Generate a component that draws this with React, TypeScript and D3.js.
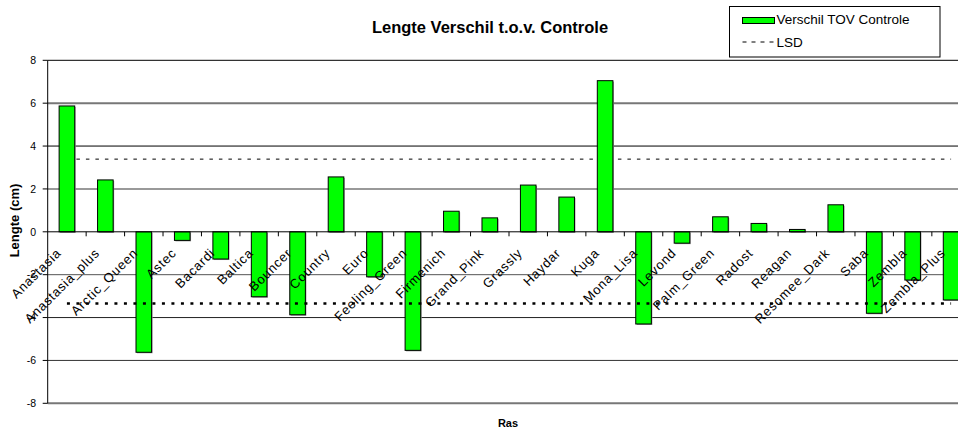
import React from "react";
import * as d3 from "d3";

const categories = [
  "Anastasia", "Anastasia_plus", "Arctic_Queen", "Astec", "Bacardi", "Baltica",
  "Bouncer", "Country", "Euro", "Feeling_Green", "Firmenich", "Grand_Pink",
  "Grassly", "Haydar", "Kuga", "Mona_Lisa", "Levond", "Palm_Green", "Radost",
  "Reagan", "Resomee_Dark", "Saba", "Zembla", "Zembla_Plus",
];
const values = [
  5.87, 2.42, -5.62, -0.4, -1.27, -3.03, -3.87, 2.56, -2.1, -5.53, 0.96, 0.65,
  2.18, 1.62, 7.05, -4.3, -0.53, 0.7, 0.39, 0.11, 1.26, -3.8, -2.25, -3.18,
];
const lsdValues = [3.39, -3.34];
const yTicks = [-8, -6, -4, -2, 0, 2, 4, 6, 8];
const title = "Lengte Verschil t.o.v. Controle";
const yTitle = "Lengte (cm)";
const xTitle = "Ras";
const legendLabels = ["Verschil TOV Controle", "LSD"];

const W = 958;
const H = 430;
const FONT = "'Liberation Sans', Arial, sans-serif";

export default function App() {
  const x0 = 47.7;
  const x1 = 970.3;
  const x = d3.scaleBand<string>().domain(categories).range([x0, x1]).padding(0);
  const y = d3.scaleLinear().domain([-8, 8]).range([403.3, 60.3]);
  const step = x.step();
  const barW = 15.6;
  const cx = (c: string) => (x(c) as number) + step / 2;
  const firstC = cx(categories[0]);
  const lastC = cx(categories[categories.length - 1]);

  const gridStyle: Record<number, { stroke: string; w: number }> = {
    8: { stroke: "#000", w: 1 },
    6: { stroke: "#777", w: 2 },
    4: { stroke: "#000", w: 1 },
    2: { stroke: "#777", w: 1.5 },
    [-2]: { stroke: "#555", w: 1 },
    [-4]: { stroke: "#222", w: 1 },
    [-6]: { stroke: "#333", w: 1 },
    [-8]: { stroke: "#777", w: 2 },
  };

  return (
    <svg
      width={W}
      height={H}
      style={{ position: "absolute", left: 0, top: 0, background: "#fff" }}
      fontFamily={FONT}
    >
      <rect x={0} y={0} width={W} height={H} fill="#fff" />
      {/* gridlines */}
      {yTicks
        .filter((t) => t !== 0)
        .map((t) => (
          <line
            key={"g" + t}
            x1={x0}
            x2={x1}
            y1={y(t)}
            y2={y(t)}
            stroke={gridStyle[t].stroke}
            strokeWidth={gridStyle[t].w}
          />
        ))}
      {/* LSD upper line */}
      <line
        x1={firstC}
        x2={lastC}
        y1={y(lsdValues[0])}
        y2={y(lsdValues[0])}
        stroke="#000"
        strokeWidth={1}
        strokeDasharray="3.5,6"
      />
      {/* bars */}
      {categories.map((c, i) => {
        const v = values[i];
        const top = y(Math.max(0, v));
        const h = Math.abs(y(v) - y(0));
        return (
          <g key={c}>
            <rect x={cx(c) - barW / 2 + 1} y={top + 1} width={barW} height={h} fill="#999" />
            <rect
              x={cx(c) - barW / 2}
              y={top}
              width={barW}
              height={h}
              fill="#00ff00"
              stroke="#000"
              strokeWidth={1}
            />
          </g>
        );
      })}
      {/* LSD lower line */}
      <line
        x1={firstC}
        x2={lastC}
        y1={y(lsdValues[1])}
        y2={y(lsdValues[1])}
        stroke="#000"
        strokeWidth={2.5}
        strokeDasharray="3,6.5"
      />
      {/* zero axis with ticks */}
      <line x1={x0} x2={x1} y1={y(0)} y2={y(0)} stroke="#000" strokeWidth={1} />
      {categories.map((c) => (
        <line
          key={"t" + c}
          x1={(x(c) as number) + step}
          x2={(x(c) as number) + step}
          y1={y(0)}
          y2={y(0) + 4.5}
          stroke="#000"
          strokeWidth={1}
        />
      ))}
      {/* y axis */}
      <line x1={x0} x2={x0} y1={y(8)} y2={y(-8)} stroke="#000" strokeWidth={1} />
      {yTicks.map((t) => (
        <g key={"y" + t}>
          <line x1={x0 - 5} x2={x0} y1={y(t)} y2={y(t)} stroke="#000" strokeWidth={1} />
          <text x={36} y={y(t) + 3.7} textAnchor="end" fontSize={10.5} fill="#000">
            {t}
          </text>
        </g>
      ))}
      {/* x labels */}
      {categories.map((c) => (
        <text
          key={"l" + c}
          transform={`translate(${cx(c) - 5},${y(0) + 22}) rotate(-45)`}
          textAnchor="end"
          fontSize={13}
          letterSpacing={0.8}
          fill="#000"
        >
          {c}
        </text>
      ))}
      {/* titles */}
      <text x={490} y={32.7} textAnchor="middle" fontSize={16.5} fontWeight="bold" fill="#000">
        {title}
      </text>
      <text
        transform={`translate(19,220.5) rotate(-90)`}
        textAnchor="middle"
        fontSize={13}
        fontWeight="bold"
        fill="#000"
      >
        {yTitle}
      </text>
      <text x={508} y={427} textAnchor="middle" fontSize={11} fontWeight="bold" fill="#000">
        {xTitle}
      </text>
      {/* legend */}
      <rect x={729.5} y={6.5} width={210.5} height={50.5} fill="#fff" stroke="#000" strokeWidth={1} />
      <rect x={742.5} y={17.5} width={32} height={6} fill="#00ff00" stroke="#000" strokeWidth={1} />
      <text x={776.5} y={24} fontSize={13.5} fill="#000">
        {legendLabels[0]}
      </text>
      <line x1={742.5} x2={775} y1={42} y2={42} stroke="#000" strokeWidth={1} strokeDasharray="4,5" />
      <text x={776.5} y={46.5} fontSize={13.5} fill="#000">
        {legendLabels[1]}
      </text>
    </svg>
  );
}
